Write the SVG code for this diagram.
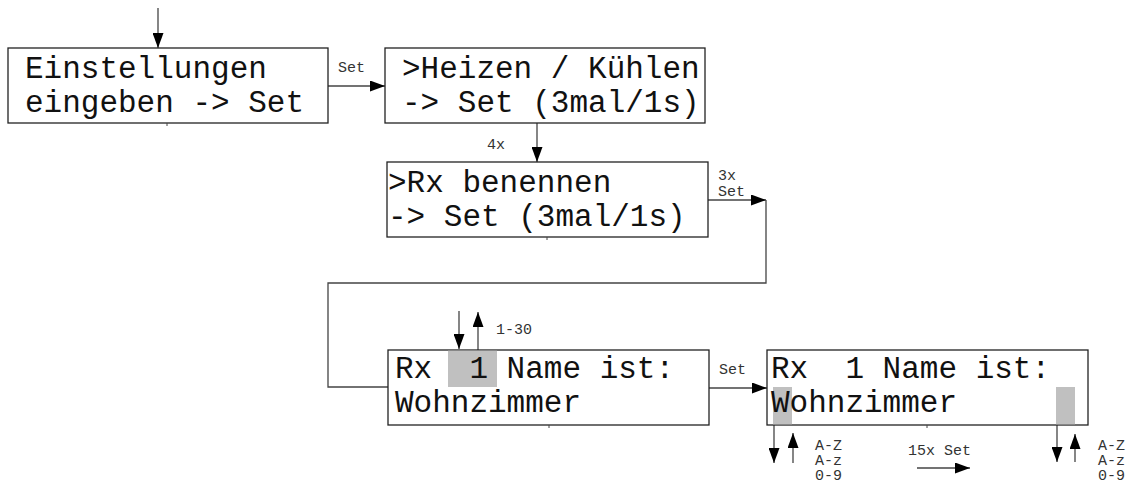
<svg xmlns="http://www.w3.org/2000/svg" width="1131" height="488" viewBox="0 0 1131 488">
<defs>
<marker id="ah" viewBox="0 0 15 11" refX="15" refY="5.5" markerWidth="15" markerHeight="11" markerUnits="userSpaceOnUse" orient="auto">
<path d="M0,0 L15,5.5 L0,11 Z" fill="#000"/>
</marker>
<style>
.box{fill:#fff;stroke:#222;stroke-width:1.3}
.hl{fill:#c0c0c0;stroke:none}
.tick{stroke:#444;stroke-width:1}
.main{font-family:"Liberation Mono",monospace;font-size:31px;fill:#111;white-space:pre}
.lbl{font-family:"Liberation Mono",monospace;font-size:15px;fill:#333;white-space:pre}
.con{fill:none;stroke:#444;stroke-width:1.3}
.arr{fill:none;stroke:#444;stroke-width:1.3;marker-end:url(#ah)}
</style>
</defs>
<rect width="1131" height="488" fill="#fff"/>

<g id="connectors">
<line class="arr" x1="158" y1="8" x2="158" y2="48"/>
<line class="arr" x1="328" y1="86" x2="385" y2="86"/>
<line class="arr" x1="537" y1="123" x2="537" y2="162"/>
<line class="arr" x1="708" y1="200" x2="766" y2="200"/>
<polyline class="con" points="766,200 766,283 328,283 328,387 388,387"/>
<line class="arr" x1="709" y1="388" x2="767" y2="388"/>
<line class="arr" x1="459" y1="311" x2="459" y2="349"/>
<line class="arr" x1="478" y1="350" x2="478" y2="312"/>
<line class="arr" x1="774" y1="425" x2="774" y2="463"/>
<line class="arr" x1="793" y1="463" x2="793" y2="433"/>
<line class="arr" x1="1057" y1="425" x2="1057" y2="462"/>
<line class="arr" x1="1075" y1="462" x2="1075" y2="434"/>
<line class="arr" x1="917" y1="468" x2="970" y2="468"/>
<text class="lbl" x="338" y="72">Set</text>
<text class="lbl" x="487" y="149">4x</text>
<text class="lbl" x="718" y="180">3x</text>
<text class="lbl" x="718" y="196">Set</text>
<text class="lbl" x="496" y="334">1-30</text>
<text class="lbl" x="719" y="374">Set</text>
<text class="lbl" x="908" y="455">15x Set</text>
<text class="lbl" x="815" y="450">A-Z</text>
<text class="lbl" x="815" y="465">A-z</text>
<text class="lbl" x="815" y="480">0-9</text>
<text class="lbl" x="1098" y="450">A-Z</text>
<text class="lbl" x="1098" y="465">A-z</text>
<text class="lbl" x="1098" y="480">0-9</text>
</g>

<g id="node-einstellungen">
<rect class="box" x="8" y="48" width="320" height="75"/>
<line class="tick" x1="167" y1="123" x2="167" y2="126"/>
<text class="main" x="25" y="78">Einstellungen</text>
<text class="main" x="25" y="112">eingeben -&gt; Set</text>
</g>

<g id="node-heizen">
<rect class="box" x="385" y="48" width="320" height="75"/>
<text class="main" x="402" y="78">&gt;Heizen / Kühlen</text>
<text class="main" x="402" y="112">-&gt; Set (3mal/1s)</text>
</g>

<g id="node-benennen">
<rect class="box" x="387" y="162" width="321" height="75"/>
<line class="tick" x1="547" y1="237" x2="547" y2="240"/>
<text class="main" x="388" y="192">&gt;Rx benennen</text>
<text class="main" x="388" y="226">-&gt; Set (3mal/1s)</text>
</g>

<g id="node-rx-nummer">
<rect class="box" x="388" y="350" width="321" height="75"/>
<rect class="hl" x="448" y="350.7" width="49" height="36.3"/>
<line class="tick" x1="549" y1="425" x2="549" y2="428"/>
<text class="main" x="395" y="378" xml:space="preserve">Rx  1 Name ist:</text>
<text class="main" x="395" y="412">Wohnzimmer</text>
</g>

<g id="node-rx-name">
<rect class="box" x="767" y="350" width="321" height="75"/>
<rect class="hl" x="773" y="387" width="19" height="37.3"/>
<rect class="hl" x="1056" y="387" width="19" height="37.3"/>
<line class="tick" x1="927" y1="425" x2="927" y2="428"/>
<text class="main" x="771" y="378" xml:space="preserve">Rx  1 Name ist:</text>
<text class="main" x="771" y="412">Wohnzimmer</text>
</g>
</svg>
